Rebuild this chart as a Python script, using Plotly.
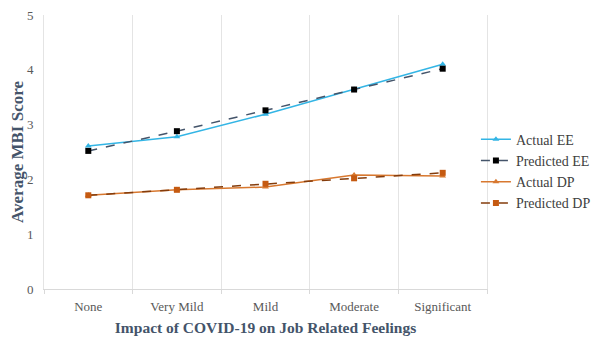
import plotly.graph_objects as go

categories = ["None", "Very Mild", "Mild", "Moderate", "Significant"]
actual_ee = [2.61, 2.78, 3.19, 3.64, 4.10]
predicted_ee = [2.52, 2.88, 3.26, 3.64, 4.02]
actual_dp = [1.71, 1.81, 1.86, 2.08, 2.06]
predicted_dp = [1.71, 1.81, 1.92, 2.02, 2.12]
y_ticks = [0, 1, 2, 3, 4, 5]

FONT = "Liberation Serif"

fig = go.Figure()
fig.add_trace(go.Scatter(x=categories, y=actual_ee, name="Actual EE", mode="lines+markers",
                         line=dict(color="#33B5E5", width=1.5),
                         marker=dict(symbol="triangle-up", size=6, color="#33B5E5")))
fig.add_trace(go.Scatter(x=categories, y=predicted_ee, name="Predicted EE", mode="lines+markers",
                         line=dict(color="#44546A", width=1.5, dash="dash"),
                         marker=dict(symbol="square", size=6, color="#000000")))
fig.add_trace(go.Scatter(x=categories, y=actual_dp, name="Actual DP", mode="lines+markers",
                         line=dict(color="#D8782F", width=1.5),
                         marker=dict(symbol="triangle-up", size=6, color="#D8782F")))
fig.add_trace(go.Scatter(x=categories, y=predicted_dp, name="Predicted DP", mode="lines+markers",
                         line=dict(color="#843C0C", width=1.5, dash="dash"),
                         marker=dict(symbol="square", size=6, color="#C55A11")))

# page body has an 8px margin, so the figure is 592x330 and margins are offset
fig.update_layout(
    width=592, height=330,
    margin=dict(l=36, r=113, t=7, b=49, autoexpand=False),
    paper_bgcolor="white", plot_bgcolor="white",
    font=dict(family=FONT, color="#595959", size=13),
    showlegend=True,
    legend=dict(x=0.975, y=0.43, xanchor="left", yanchor="middle",
                font=dict(family=FONT, size=14, color="#404040"),
                tracegroupgap=0, itemwidth=30, bgcolor="rgba(0,0,0,0)"),
    xaxis=dict(type="category", range=[-0.5, 4.5], tickson="boundaries",
               showgrid=True, gridcolor="#E4E4E4", gridwidth=1,
               showline=True, linecolor="#D9D9D9", linewidth=1,
               ticks="outside", ticklen=4, tickcolor="#D9D9D9", ticklabelstandoff=5,
               tickfont=dict(family=FONT, size=13, color="#595959"),
               title=dict(text="<b>Impact of COVID-19 on Job Related Feelings</b>",
                          font=dict(family=FONT, size=15.5, color="#44546A"), standoff=9),
               zeroline=False, automargin=True),
    yaxis=dict(range=[0, 5], tickvals=y_ticks, showgrid=False, zeroline=False,
               showline=True, linecolor="#E4E4E4", linewidth=1, mirror=True, ticks="",
               ticklabelstandoff=7, ticklabeloverflow="allow",
               tickfont=dict(family=FONT, size=13, color="#595959"),
               title=dict(text="<b>Average MBI Score</b>",
                          font=dict(family=FONT, size=17, color="#44546A"), standoff=3),
               automargin=True),
)

fig.write_html("out.html")
